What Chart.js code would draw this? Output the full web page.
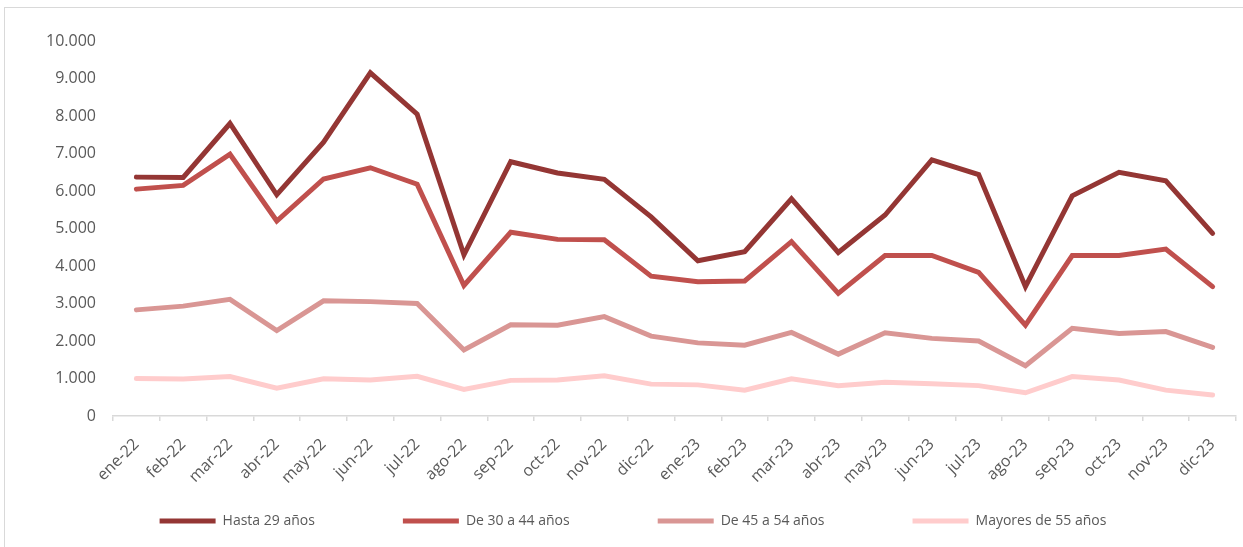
<!DOCTYPE html>
<html lang="es">
<head>
<meta charset="utf-8">
<title>Grupos de edad</title>
<script src="https://cdn.jsdelivr.net/npm/chart.js@4.4.1/dist/chart.umd.min.js"></script>
<style>
    body { margin: 0; background: #fff; }
    #contenedor { position: relative; width: 1243px; height: 547px; }
    #marco { position: absolute; left: 4px; top: 7px; right: -2px; bottom: -2px; border-left: 1.5px solid #d9d9d9; border-top: 1.5px solid #d9d9d9; }
    #grafico { position: absolute; left: 0; top: 0; }
</style>
</head>
<body>
<div id="contenedor">
    <div id="marco"></div>
    <canvas id="grafico" width="1243" height="547"></canvas>
</div>
<script>
// datos
const meses = ['ene-22', 'feb-22', 'mar-22', 'abr-22', 'may-22', 'jun-22', 'jul-22', 'ago-22', 'sep-22', 'oct-22', 'nov-22', 'dic-22',
    'ene-23', 'feb-23', 'mar-23', 'abr-23', 'may-23', 'jun-23', 'jul-23', 'ago-23', 'sep-23', 'oct-23', 'nov-23', 'dic-23']

const hasta29 = [6370, 6360, 7800, 5900, 7300, 9150, 8050, 4300, 6780, 6480, 6310, 5310,
    4140, 4380, 5790, 4360, 5360, 6830, 6440, 3450, 5870, 6500, 6270, 4870]
const de30a44 = [6050, 6150, 6980, 5200, 6320, 6620, 6180, 3480, 4900, 4710, 4700, 3730,
    3580, 3600, 4650, 3270, 4280, 4280, 3830, 2420, 4280, 4280, 4450, 3450]
const de45a54 = [2830, 2930, 3110, 2280, 3070, 3050, 3000, 1760, 2430, 2420, 2650, 2130,
    1950, 1890, 2230, 1650, 2220, 2070, 2000, 1340, 2340, 2200, 2250, 1830]
const mayores55 = [1000, 990, 1050, 740, 990, 960, 1060, 710, 950, 960, 1070, 850,
    830, 690, 990, 810, 900, 860, 810, 620, 1050, 960, 690, 560]

const nombresSeries = ['Hasta 29 años', 'De 30 a 44 años', 'De 45 a 54 años', 'Mayores de 55 años']
const coloresSeries = ['#943634', '#c0504d', '#d99694', '#ffcccc']
const valoresSeries = [hasta29, de30a44, de45a54, mayores55]

const colorTexto = '#595959'
const separacionLeyenda = 88

function formatoMiles(valor) {
    // 10000 -> 10.000
    return String(valor).replace(/\B(?=(\d{3})+(?!\d))/g, '.')
}

var datasets = []
for (let i = 0; i < valoresSeries.length; i++) {
    datasets.push({
        label: nombresSeries[i],
        data: valoresSeries[i],
        borderColor: coloresSeries[i],
        backgroundColor: coloresSeries[i],
        borderWidth: 5,
        borderCapStyle: 'round',
        borderJoinStyle: 'miter',
        pointRadius: 0,
        pointHoverRadius: 0,
        tension: 0,
        fill: false
    })
}

const config = {
    type: 'line',
    data: {
        labels: meses,
        datasets: datasets
    },
    options: {
        responsive: false,
        animation: false,
        layout: {
            padding: { left: 30, right: 7, top: 41, bottom: 9 }
        },
        scales: {
            x: {
                offset: true,
                grid: {
                    offset: true,
                    drawOnChartArea: false,
                    drawTicks: true,
                    tickLength: 5,
                    color: '#d9d9d9',
                    lineWidth: 1.5
                },
                border: { display: true, color: '#d9d9d9', width: 1.5 },
                ticks: {
                    autoSkip: false,
                    minRotation: 45,
                    maxRotation: 45,
                    padding: 14,
                    color: colorTexto,
                    font: { family: 'Open Sans', size: 16 }
                },
                afterFit: function (escala) {
                    escala.height = 98
                }
            },
            y: {
                min: 0,
                max: 10000,
                grid: { display: false, drawTicks: false },
                border: { display: false },
                ticks: {
                    stepSize: 1000,
                    padding: 17,
                    color: colorTexto,
                    font: { family: 'Open Sans', size: 16 },
                    callback: function (valor) { return formatoMiles(valor) }
                },
                afterFit: function (escala) {
                    escala.width = 83
                }
            }
        },
        plugins: {
            tooltip: { enabled: false },
            legend: {
                position: 'bottom',
                // título vacío con relleno negativo: anula el hueco vertical que mete labels.padding
                title: {
                    display: true,
                    text: '',
                    font: { size: 10, lineHeight: 1 },
                    padding: { top: -(separacionLeyenda + 10), bottom: 0 }
                },
                labels: {
                    usePointStyle: true,
                    pointStyle: 'line',
                    pointStyleWidth: 56,
                    padding: separacionLeyenda,
                    color: colorTexto,
                    font: { family: 'Open Sans', size: 14 }
                }
            }
        }
    }
}

let grafico = new Chart(document.getElementById('grafico'), config)
console.log('area', grafico.chartArea, grafico.legend.top, grafico.legend.height)
</script>
</body>
</html>
